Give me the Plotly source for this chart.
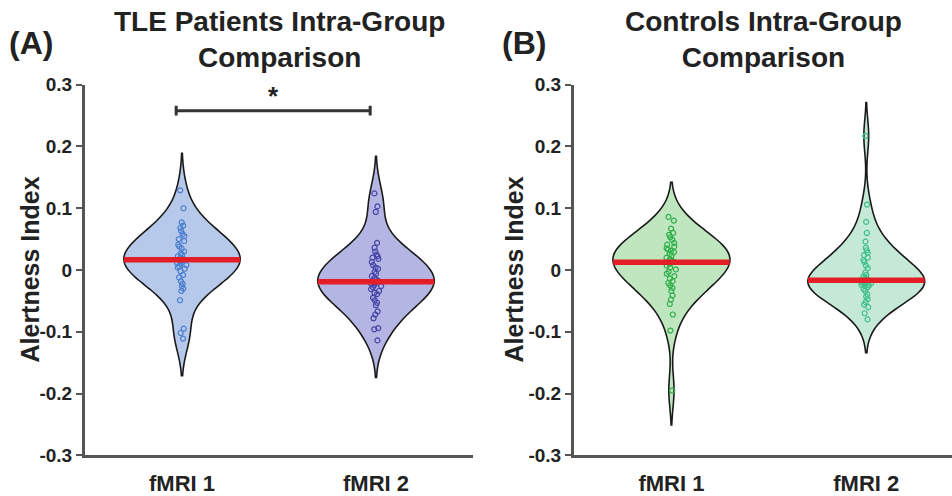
import numpy as np
import plotly.graph_objects as go

categories = ["fMRI 1", "fMRI 2"]
y_ticks = [-0.3, -0.2, -0.1, 0, 0.1, 0.2, 0.3]
y_tick_text = ["-0.3", "-0.2", "-0.1", "0", "0.1", "0.2", "0.3"]

tle_fmri1 = [0.129, 0.100, 0.077, 0.072, 0.068, 0.063, 0.058, 0.055, 0.050, 0.047,
             0.041, 0.038, 0.035, 0.030, 0.027, 0.025, 0.022, 0.020, 0.018, 0.017,
             0.016, 0.014, 0.012, 0.010, 0.008, 0.006, 0.004, 0.002, -0.002, -0.008,
             -0.012, -0.018, -0.022, -0.026, -0.030, -0.034, -0.049, -0.095, -0.102, -0.111]
tle_fmri2 = [0.124, 0.103, 0.094, 0.044, 0.036, 0.030, 0.025, 0.022, 0.020, 0.018,
             0.013, 0.008, 0.004, 0.002, -0.003, -0.006, -0.010, -0.013, -0.016, -0.018,
             -0.020, -0.021, -0.022, -0.024, -0.026, -0.028, -0.031, -0.034, -0.037, -0.039,
             -0.045, -0.049, -0.053, -0.057, -0.067, -0.072, -0.078, -0.094, -0.096, -0.114]
ctrl_fmri1 = [0.086, 0.080, 0.067, 0.060, 0.057, 0.053, 0.049, 0.044, 0.041, 0.038,
              0.035, 0.033, 0.031, 0.029, 0.026, 0.023, 0.020, 0.017, 0.015, 0.013,
              0.012, 0.010, 0.007, 0.004, 0.001, -0.003, -0.006, -0.010, -0.014, -0.018,
              -0.021, -0.025, -0.029, -0.034, -0.041, -0.048, -0.055, -0.072, -0.098, -0.195]
ctrl_fmri2 = [0.217, 0.106, 0.078, 0.060, 0.046, 0.036, 0.032, 0.028, 0.024, 0.020,
              0.016, 0.013, 0.007, 0.003, -0.004, -0.008, -0.011, -0.013, -0.015, -0.016,
              -0.017, -0.018, -0.019, -0.020, -0.021, -0.022, -0.024, -0.025, -0.026, -0.028,
              -0.031, -0.034, -0.039, -0.043, -0.047, -0.052, -0.056, -0.060, -0.070, -0.080]

panels = [
    dict(data=[tle_fmri1, tle_fmri2], xa="x", ya="y",
         fill=["#b7c9ea", "#b5b5e3"], pts=["#4a7fcf", "#4545a8"], bw=[0.030, 0.030]),
    dict(data=[ctrl_fmri1, ctrl_fmri2], xa="x2", ya="y2",
         fill=["#c0e6c0", "#c4e9d6"], pts=["#2fb04a", "#40c08a"], bw=[0.028, 0.027]),
]

VW = 0.6  # violin width in category units


def kde_halfwidth(vals, bw, at):
    v = np.asarray(vals)
    grid = np.linspace(v.min() - 2 * bw, v.max() + 2 * bw, 600)
    dens = lambda t: np.exp(-0.5 * ((t[:, None] - v[None, :]) / bw) ** 2).sum(axis=1)
    return VW / 2 * dens(np.array([at]))[0] / dens(grid).max()


fig = go.Figure()
for p in panels:
    for i, vals in enumerate(p["data"]):
        fig.add_trace(go.Violin(
            y=vals, x0=i, xaxis=p["xa"], yaxis=p["ya"], width=VW,
            bandwidth=p["bw"][i], spanmode="soft", points=False,
            fillcolor=p["fill"][i], opacity=1, line=dict(color="#1a1a1a", width=1.6),
            box_visible=False, meanline_visible=False, showlegend=False, hoverinfo="skip"))
        med = float(np.median(vals))
        hw = kde_halfwidth(vals, p["bw"][i], med)
        fig.add_trace(go.Scatter(
            x=[i - hw, i + hw], y=[med, med], xaxis=p["xa"], yaxis=p["ya"], mode="lines",
            line=dict(color="#e41e26", width=5.5), showlegend=False, hoverinfo="skip"))
        fig.add_trace(go.Violin(
            y=vals, x0=i, xaxis=p["xa"], yaxis=p["ya"], width=VW,
            bandwidth=p["bw"][i], points="all", pointpos=0, jitter=0.1,
            fillcolor="rgba(0,0,0,0)", line=dict(color="rgba(0,0,0,0)", width=0),
            marker=dict(symbol="circle-open", size=5, color=p["pts"][i], line=dict(width=1.2)),
            box_visible=False, showlegend=False, hoverinfo="skip"))

axis_col = "#555555"
font_fam = "Liberation Sans, Arial, sans-serif"
ydom = [1 - 465 / 496, 1 - 78 / 496]
common_y = dict(range=[-0.3, 0.3], tickvals=y_ticks, ticktext=y_tick_text, showgrid=False,
                zeroline=False, showline=True, linecolor=axis_col, linewidth=3,
                ticks="outside", ticklen=6, tickwidth=2, tickcolor=axis_col,
                tickfont=dict(family=font_fam, size=19, color="#222", weight="bold"), domain=ydom)
common_x = dict(tickvals=[0, 1], ticktext=categories, showgrid=False, zeroline=False,
                showline=True, linecolor=axis_col, linewidth=3, ticks="", ticklabelstandoff=6,
                tickfont=dict(family=font_fam, size=22, color="#222", weight="bold"))

fig.update_layout(
    width=952, height=496, margin=dict(l=0, r=0, t=0, b=0),
    plot_bgcolor="white", paper_bgcolor="white", violinmode="overlay",
    font=dict(family=font_fam, color="#222"),
    xaxis=dict(common_x, domain=[85 / 952, 473 / 952], range=[-0.5, 1.5], anchor="y"),
    yaxis=dict(common_y, anchor="x"),
    xaxis2=dict(common_x, domain=[574 / 952, 1.0], range=[-0.5, 1.44], anchor="y2"),
    yaxis2=dict(common_y, anchor="x2"),
)

# significance bracket between categories in panel A
br_y, cap = 0.258, 0.008
fig.add_shape(type="line", xref="x", yref="y", x0=0 - 0.03, x1=1 - 0.03, y0=br_y, y1=br_y,
              line=dict(color="#333", width=3))
for cx in [0 - 0.03, 1 - 0.03]:
    fig.add_shape(type="line", xref="x", yref="y", x0=cx, x1=cx, y0=br_y - cap, y1=br_y + cap,
                  line=dict(color="#333", width=3))
fig.add_annotation(x=0.47, y=br_y - 0.004, xref="x", yref="y", text="<b>*</b>", showarrow=False,
                   yanchor="bottom", font=dict(size=26, color="#222"))

titles = ["<b>TLE Patients Intra-Group<br>Comparison</b>", "<b>Controls Intra-Group<br>Comparison</b>"]
centers = [(85 + 473) / 2 / 952, (574 + 952) / 2 / 952]
for t, c in zip(titles, centers):
    fig.add_annotation(x=c, y=1 - 31 / 496, xref="paper", yref="paper", text=t, showarrow=False,
                       xanchor="center", yanchor="middle", font=dict(size=28, color="#222"))
for lab, xp in [("(A)", 31), ("(B)", 524)]:
    fig.add_annotation(x=xp / 952, y=1 - 34 / 496, xref="paper", yref="paper", text=f"<b>{lab}</b>",
                       showarrow=False, xanchor="center", yanchor="middle",
                       font=dict(size=32, color="#222"))
for xp in [30, 514]:
    fig.add_annotation(x=xp / 952, y=1 - 271 / 496, xref="paper", yref="paper",
                       text="<b>Alertness Index</b>", textangle=-90, showarrow=False,
                       xanchor="center", yanchor="middle", font=dict(size=25, color="#222"))

fig.write_html("out.html")
